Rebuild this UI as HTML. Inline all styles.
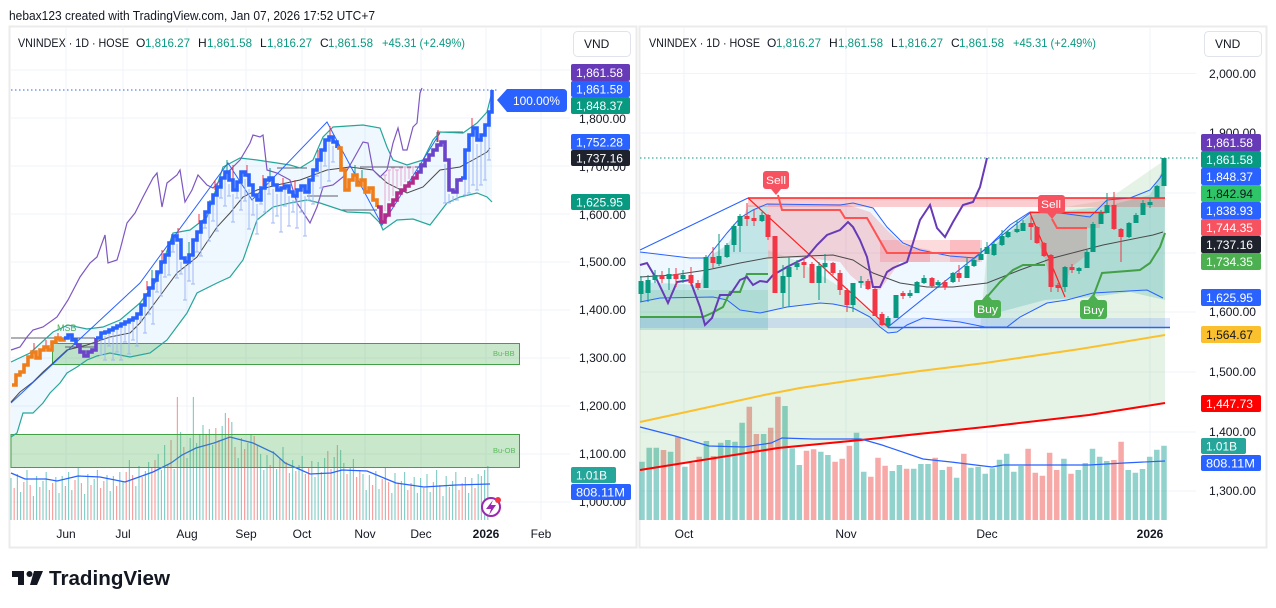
<!DOCTYPE html>
<html><head><meta charset="utf-8"><style>
html,body{margin:0;padding:0;background:#fff;}
body{width:1276px;height:608px;overflow:hidden;}
svg{display:block;font-family:"Liberation Sans",sans-serif;}
</style></head><body>
<svg width="1276" height="608" viewBox="0 0 1276 608" xmlns="http://www.w3.org/2000/svg">
<rect width="1276" height="608" fill="#fff"/>
<text x="9" y="20" font-size="12.5" fill="#131722" textLength="366" lengthAdjust="spacingAndGlyphs">hebax123 created with TradingView.com, Jan 07, 2026 17:52 UTC+7</text>

<!-- ================= LEFT CHART ================= -->
<rect x="9.5" y="26.5" width="627" height="521" fill="none" stroke="#ebebeb" stroke-width="2"/>
<g stroke="#f0f3fa" stroke-width="1">
<path d="M11,70H570M11,118H570M11,166H570M11,214H570M11,262H570M11,310H570M11,358H570M11,406H570M11,454H570M11,502H570"/>
<path d="M66,28V520M123,28V520M187,28V520M246,28V520M302,28V520M365,28V520M421,28V520M486,28V520M541,28V520"/>
</g>
<!-- bollinger fill -->
<polygon fill="#2196f3" fill-opacity="0.07" points="11,362 30,353 53,332 68,325 87,329 103,327 120,320 140,303 157,280 173,233 190,230 207,217 223,167 240,158 257,160 277,163 290,165 300,168 313,160 323,137 333,127 363,125 380,128 387,147 393,160 407,165 423,160 433,140 440,132 463,133 477,123 487,112 492,92 492,202 487,197 477,193 460,197 447,203 430,225 413,219 397,220 383,230 380,223 370,213 347,212 320,203 307,200 290,203 273,207 257,220 243,260 230,277 217,283 197,293 187,313 167,340 150,353 130,357 110,353 97,356 87,360 77,367 67,373 60,383 50,393 43,403 33,413 23,413 17,433 11,437"/>
<!-- volume -->
<path fill="none" stroke="#26a69a" stroke-opacity="0.55" stroke-width="1.2" d="M11,520V478M17.4,520V474M20.6,520V492M27,520V470M33.4,520V496M36.6,520V476M43,520V481M46.2,520V472M55.8,520V477M59,520V493M62.2,520V476M68.6,520V472M71.8,520V490M78.2,520V468M84.6,520V494M87.8,520V474M94.2,520V479M97.4,520V470M107,520V475M110.2,520V491M113.4,520V476M119.8,520V472M123,520V482M129.4,520V460M135.8,520V486M139,520V466M145.4,520V471M148.6,520V462M158.2,520V454M161.4,520V470M164.6,520V445M174.2,520V469M180.6,520V432M187,520V458M190.2,520V438M193.4,520V397M196.6,520V443M199.8,520V434M203,520V425M209.4,520V429M212.6,520V445M222.2,520V426M225.4,520V413M231.8,520V422M238.2,520V458M241.4,520V438M247.8,520V443M251,520V434M260.6,520V454M263.8,520V470M267,520V455M273.4,520V451M276.6,520V469M283,520V447M289.4,520V473M292.6,520V460M299,520V465M302.2,520V456M311.8,520V461M315,520V477M318.2,520V462M324.6,520V458M334.2,520V457M340.6,520V450M343.8,520V463M350.2,520V468M353.4,520V459M363,520V474M366.2,520V490M369.4,520V475M375.8,520V471M379,520V489M385.4,520V467M391.8,520V493M395,520V473M401.4,520V481M404.6,520V472M414.2,520V477M417.4,520V493M420.6,520V478M427,520V474M430.2,520V492M436.6,520V470M443,520V496M446.2,520V476M452.6,520V481M455.8,520V472M465.4,520V477M468.6,520V493M471.8,520V478M478.2,520V474M481.4,520V476M484.6,520V470M487.8,520V466"/>
<path fill="none" stroke="#ef5350" stroke-opacity="0.55" stroke-width="1.2" d="M14.2,520V488M23.8,520V482M30.2,520V485M39.8,520V487M49.4,520V490M52.6,520V483M65.4,520V486M75,520V480M81.4,520V483M91,520V485M100.6,520V488M103.8,520V481M116.6,520V486M126.2,520V472M132.6,520V475M142.2,520V477M151.8,520V467M155,520V460M167.8,520V465M171,520V440M177.4,520V397M183.8,520V447M206.2,520V435M215.8,520V428M219,520V440M228.6,520V418M235,520V447M244.6,520V449M254.2,520V436M257.4,520V445M270.2,520V465M279.8,520V459M286.2,520V462M295.8,520V471M305.4,520V474M308.6,520V467M321.4,520V472M327.8,520V451M331,520V469M337.4,520V445M347,520V474M356.6,520V477M359.8,520V470M372.6,520V485M382.2,520V479M388.6,520V482M398.2,520V484M407.8,520V490M411,520V483M423.8,520V488M433.4,520V482M439.8,520V485M449.4,520V487M459,520V490M462.2,520V483M475,520V488"/>
<polyline fill="none" stroke="#2962ff" stroke-width="1.3" points="11,473 25,479 46,479 57,481 78,476 100,477 125,482 153,472 171,463 182,455 196,448 214,443 230,437 253,443 274,453 285,463 310,474 331,473 342,470 367,471 396,483 424,487 456,485 490,484"/>
<!-- boxes -->
<rect x="52.5" y="343.5" width="467" height="21" fill="#4caf50" fill-opacity="0.3" stroke="#43a047" stroke-width="1"/>
<rect x="11" y="434.5" width="508.5" height="33" fill="#4caf50" fill-opacity="0.3" stroke="#43a047" stroke-width="1"/>
<text x="493" y="356" font-size="7.5" fill="#5cb860">Bu-BB</text>
<text x="493" y="453" font-size="7.5" fill="#5cb860">Bu-OB</text>
<!-- gray level lines -->
<path fill="none" stroke="#5d606b" stroke-width="1" d="M11,338H95M65,347H95M277,168H307M307,196H338M340,210H377M360,167H427M437,132H463M437,132V142"/>
<!-- bands -->
<polyline fill="none" stroke="#26a69a" stroke-width="1.2" points="11,362 30,353 53,332 68,325 87,329 103,327 120,320 140,303 157,280 173,233 190,230 207,217 223,167 240,158 257,160 277,163 290,165 300,168 313,160 323,137 333,127 363,125 380,128 387,147 393,160 407,165 423,160 433,140 440,132 463,133 477,123 487,112 492,92"/>
<polyline fill="none" stroke="#26a69a" stroke-width="1.2" points="11,437 17,433 23,413 33,413 43,403 50,393 60,383 67,373 77,367 87,360 97,356 110,353 130,357 150,353 167,340 187,313 197,293 217,283 230,277 243,260 257,220 273,207 290,203 307,200 320,203 347,212 370,213 380,223 383,230 397,220 413,219 430,225 447,203 460,197 477,193 487,197 492,202"/>
<polyline fill="none" stroke="#4a4a4a" stroke-width="1" points="11,402 20,392 33,382 43,372 53,363 67,350 87,345 110,337 130,333 140,323 157,300 177,273 197,257 217,227 230,213 243,197 257,190 277,185 300,180 327,170 350,167 373,170 387,183 407,193 423,187 440,170 460,167 473,160 487,152 490,148"/>
<polyline fill="none" stroke="#7e57c2" stroke-width="1.2" points="11,350 20,347 27,337 33,330 43,327 57,317 68,300 80,277 90,263 97,257 105,235 108,263 117,260 120,250 127,223 135,213 143,197 153,178 157,173 162,207 167,183 177,175 180,170 185,202 192,190 198,175 207,185 213,188 225,175 240,160 250,143 253,135 260,137 263,135 267,170 277,173 290,180 297,203 310,223 317,207 323,187 333,185 343,177 353,160 363,142 368,143 373,170 380,177 387,170 393,143 398,128 403,150 407,150 413,127 417,123 420,93 422,88"/>
<polyline fill="none" stroke="#2962ff" stroke-width="1" points="11,403 140,283 228,163 252,200 327,122 382,225 440,133"/>
<text x="57" y="331" font-size="9" fill="#4caf50">MSB</text>
<!-- wicks -->
<path fill="none" stroke="#9fb9f5" stroke-width="1" d="M101,337V355M105,336V360M109,334V346M113,332V360M117,330V352M121,328V360M125,326V342M129,324V354M133,322V340M137,318V346M141,309V321M145,299V333M149,292V314M153,284V324M157,276V292M161,266V296M165,259V277M169,247V275M173,240V252M177,244V278M181,262V274M185,266V300M189,259V281M193,244V284M197,236V252M201,226V256M205,216V228M209,207V241M213,199V221M217,191V231M221,182V198M225,176V206M229,184V196M233,194V222M237,186V198M241,176V210M245,179V201M249,189V229M253,199V215M257,204V234M261,192V204M265,184V212M269,182V194M273,189V223M277,194V216M281,192V232M285,190V206M289,196V226M293,200V212M297,194V228M301,190V212M305,196V236M309,184V200M313,174V204M317,164V176M321,154V188M325,144V166M329,141V181M333,146V162M445,164V203M449,194V203M453,196V202M457,184V200M465,154V195M469,139V193M473,132V185M477,144V190M481,139V185M485,129V180M489,116V160
M99,355h4M103,360h4M107,346h4M111,360h4M115,352h4M119,360h4M123,342h4M127,354h4M131,340h4M135,346h4M139,321h4M143,333h4M147,314h4M151,324h4M155,292h4M159,296h4M163,277h4M167,275h4M171,252h4M175,278h4M179,274h4M183,300h4M187,281h4M191,284h4M195,252h4M199,256h4M203,228h4M207,241h4M211,221h4M215,231h4M219,198h4M223,206h4M227,196h4M231,222h4M235,198h4M239,210h4M243,201h4M247,229h4M251,215h4M255,234h4M259,204h4M263,212h4M267,194h4M271,223h4M275,216h4M279,232h4M283,206h4M287,226h4M291,212h4M295,228h4M299,212h4M303,236h4M307,200h4M311,204h4M315,176h4M319,188h4M323,166h4M327,181h4M331,162h4M443,203h4M447,203h4M455,200h4M463,195h4M467,193h4M471,185h4M475,190h4M479,185h4M483,180h4M487,160h4"/>
<path fill="none" stroke="#e7a6cf" stroke-width="1" d="M385,175V211M389,170V201M393,168V196M397,170V189M401,168V186M405,167V182M409,168V179M413,167V174M383,175h4M387,170h4M391,168h4M395,170h4M399,168h4M403,167h4M407,168h4M411,167h4"/>
<path fill="none" stroke="#f23645" stroke-width="1" d="M147,281V290M162,250V262M178,228V240M199,214V224M215,180V190M233,165V180M247,165V177M263,175V186M283,178V188M295,180V190M318,150V160M330,126V138M472,118V128M438,130V142M34,343V350M46,340V347M58,333V340"/>
<path fill="none" stroke="#089981" stroke-width="1" d="M189,242V255M227,160V172M270,168V178M355,165V175M362,170V185M152,270V280M210,200V210"/>
<!-- candles staircase -->
<g fill="none" stroke-width="3.6" stroke-linejoin="miter">
<path stroke="#ef7d1a" d="M12,385H16V375H20V372H24V365H28V357H32V352H36V358H40V350H44V347H48V350H52V342H56V338H60V340H64V338"/>
<path stroke="#2962ff" d="M64,338H68V335H72V340H76V345"/>
<path stroke="#6a45c9" d="M76,345H80V352H84V356H88V352H92V350H96V338"/>
<path stroke="#2962ff" d="M96,338H101V333H105V332H109V330H113V328H117V326H121V324H125V322H129V320H133V318H137V314H141V305H145V295H149V288H153V280H157V272H161V262H165V255H169V243H173V236H177V240H181V258H185V262H189V255H193V240H197V232H201V222H205V212H209V203H213V195H217V187H221V178H225V172H229V180H233V190H237V182H241V172H245V175H249V185H253V195H257V200H261V188H265V180H269V178H273V185H277V190H281V188H285V186H289V192H293V196H297V190H301V186H305V192H309V180H313V170H317V160H321V150H325V140H329V137H333V142H337V148"/>
<path stroke="#ef7d1a" d="M337,148H341V170H345V190H349V180H353V175H357V185H361V180H365V192H369V188H373V200H377V207"/>
<path stroke="#b22a8a" d="M377,207H381V222H385V215H389V205H393V200H397V193H401V190H405V186H409V183H413V178H417V172"/>
<path stroke="#6a45c9" d="M417,172H421V165H425V160H429V155H433V150H437V145H441V142H445V160H449V190H453V192H457V180H461V178"/>
<path stroke="#2962ff" d="M461,178H465V150H469V135H473V128H477V140H481V135H485V125H489V112H492V90"/>
</g>
<line x1="11" y1="90" x2="498" y2="90" stroke="#2962ff" stroke-width="1" stroke-dasharray="1.5,2.5"/>
<path d="M497,100L507,89H563Q567,89 567,93V108Q567,112 563,112H507Z" fill="#2962ff"/>
<text x="513" y="105" font-size="12" fill="#fff" textLength="47" lengthAdjust="spacingAndGlyphs">100.00%</text>
<!-- lightning -->
<circle cx="491" cy="507" r="9" fill="#fff" stroke="#9c27b0" stroke-width="2"/>
<polygon points="493,500 486,509 491,509 489,515 496,505 491,505" fill="#9c27b0"/>
<circle cx="498" cy="500" r="3" fill="#f23645"/>
<!-- left axis labels -->
<g font-size="12" fill="#131722">
<text x="579" y="74" textLength="47" lengthAdjust="spacingAndGlyphs">1,900.00</text>
<text x="579" y="123" textLength="47" lengthAdjust="spacingAndGlyphs">1,800.00</text>
<text x="579" y="171" textLength="47" lengthAdjust="spacingAndGlyphs">1,700.00</text>
<text x="579" y="219" textLength="47" lengthAdjust="spacingAndGlyphs">1,600.00</text>
<text x="579" y="266" textLength="47" lengthAdjust="spacingAndGlyphs">1,500.00</text>
<text x="579" y="314" textLength="47" lengthAdjust="spacingAndGlyphs">1,400.00</text>
<text x="579" y="362" textLength="47" lengthAdjust="spacingAndGlyphs">1,300.00</text>
<text x="579" y="410" textLength="47" lengthAdjust="spacingAndGlyphs">1,200.00</text>
<text x="579" y="458" textLength="47" lengthAdjust="spacingAndGlyphs">1,100.00</text>
<text x="579" y="506" textLength="47" lengthAdjust="spacingAndGlyphs">1,000.00</text>
</g>
<g font-size="12" fill="#fff">
<rect x="571" y="64" width="59" height="17" rx="2" fill="#673ab7"/><text x="576" y="77" textLength="47" lengthAdjust="spacingAndGlyphs">1,861.58</text>
<rect x="571" y="81" width="59" height="16" rx="2" fill="#2962ff"/><text x="576" y="93.5" textLength="47" lengthAdjust="spacingAndGlyphs">1,861.58</text>
<rect x="571" y="97" width="59" height="17" rx="2" fill="#089981"/><text x="576" y="110" textLength="47" lengthAdjust="spacingAndGlyphs">1,848.37</text>
<rect x="571" y="134" width="59" height="16" rx="2" fill="#2962ff"/><text x="576" y="146.5" textLength="47" lengthAdjust="spacingAndGlyphs">1,752.28</text>
<rect x="571" y="150" width="59" height="16" rx="2" fill="#1e222d"/><text x="576" y="162.5" textLength="47" lengthAdjust="spacingAndGlyphs">1,737.16</text>
<rect x="571" y="194" width="59" height="16" rx="2" fill="#089981"/><text x="576" y="206.5" textLength="47" lengthAdjust="spacingAndGlyphs">1,625.95</text>
<rect x="571" y="467" width="45" height="16" rx="2" fill="#26a69a"/><text x="576" y="479.5" textLength="31" lengthAdjust="spacingAndGlyphs">1.01B</text>
<rect x="571" y="484" width="60" height="16" rx="2" fill="#2962ff"/><text x="576" y="496.5" textLength="49" lengthAdjust="spacingAndGlyphs">808.11M</text>
</g>
<rect x="573.5" y="31.5" width="57" height="25" rx="4" fill="#fff" stroke="#e0e3eb"/>
<text x="584" y="48" font-size="12" fill="#131722">VND</text>
<g font-size="12" fill="#131722">
<text x="18" y="47" textLength="111" lengthAdjust="spacingAndGlyphs">VNINDEX · 1D · HOSE</text>
<text x="136" y="47">O</text><text x="145" y="47" fill="#089981" textLength="45" lengthAdjust="spacingAndGlyphs">1,816.27</text>
<text x="198" y="47">H</text><text x="207" y="47" fill="#089981" textLength="45" lengthAdjust="spacingAndGlyphs">1,861.58</text>
<text x="260" y="47">L</text><text x="267" y="47" fill="#089981" textLength="45" lengthAdjust="spacingAndGlyphs">1,816.27</text>
<text x="320" y="47">C</text><text x="328" y="47" fill="#089981" textLength="45" lengthAdjust="spacingAndGlyphs">1,861.58</text>
<text x="382" y="47" fill="#089981" textLength="83" lengthAdjust="spacingAndGlyphs">+45.31 (+2.49%)</text>
</g>
<g font-size="12" fill="#131722" text-anchor="middle">
<text x="66" y="538">Jun</text><text x="123" y="538">Jul</text><text x="187" y="538">Aug</text><text x="246" y="538">Sep</text><text x="302" y="538">Oct</text><text x="365" y="538">Nov</text><text x="421" y="538">Dec</text><text x="486" y="538" font-weight="bold">2026</text><text x="541" y="538">Feb</text>
</g>

<!-- ================= RIGHT CHART ================= -->
<rect x="639.5" y="26.5" width="627" height="521" fill="none" stroke="#ebebeb" stroke-width="2"/>
<g stroke="#f0f3fa" stroke-width="1">
<path d="M640,73.5H1196M640,133H1196M640,193H1196M640,253H1196M640,312H1196M640,372H1196M640,432H1196M640,491H1196"/>
<path d="M684,28V520M846,28V520M987,28V520M1150,28V520"/>
</g>
<!-- volume -->
<path fill="none" stroke="#26a69a" stroke-opacity="0.5" stroke-width="5.5" d="M642,520V461.7M649.2,520V447.7M656.3,520V447.7M670.6,520V451.7M684.9,520V466.7M706.4,520V441M720.7,520V442.7M727.8,520V440M735,520V441.7M742.1,520V422.7M763.6,520V434M785,520V406M792.2,520V448.3M799.3,520V465M820.8,520V451.7M827.9,520V455M856.5,520V432.7M863.7,520V471.7M892.3,520V471M899.4,520V465M913.7,520V468.7M920.9,520V464M928,520V464M942.3,520V470M956.6,520V477.7M970.9,520V467.7M978.1,520V466.7M985.2,520V473.7M992.4,520V468.3M999.5,520V459.7M1006.7,520V453.7M1013.8,520V471.7M1021,520V466M1063.9,520V458.7M1078.2,520V470M1085.3,520V463M1092.5,520V448.7M1099.6,520V456.7M1106.8,520V461M1128.2,520V470M1135.4,520V472.7M1142.5,520V469M1149.7,520V456.7M1156.8,520V449.7M1164,520V445.7"/>
<path fill="none" stroke="#ef5350" stroke-opacity="0.5" stroke-width="5.5" d="M663.5,520V450M677.8,520V436.7M692.1,520V463.3M699.2,520V456.7M713.5,520V456M749.3,520V406.7M756.4,520V434M770.7,520V427.7M777.9,520V396.7M806.5,520V450.7M813.6,520V449.3M835.1,520V461.7M842.2,520V458.7M849.4,520V445.7M870.8,520V476.7M878,520V457.7M885.1,520V465.7M906.6,520V468.7M935.2,520V457.7M949.5,520V466.7M963.8,520V453.7M1028.1,520V448.7M1035.3,520V472.7M1042.4,520V475.7M1049.6,520V452.7M1056.7,520V470M1071,520V473.7M1113.9,520V460M1121.1,520V441.7"/>
<!-- fills -->
<polygon fill="#4caf50" fill-opacity="0.15" points="640,290 768,290 768,250 800,262 845,290 888,328 980,330 987,250 1030,213 1107,200 1165,160 1165,403 1089,415 985,427 861,440 778,448 640,470"/>
<polygon fill="#2196f3" fill-opacity="0.07" points="640,252 690,258 707,258 727,233 740,218 753,210 767,204 840,205 853,203 873,208 887,227 903,243 920,250 950,256 975,258 990,245 1010,225 1030,212 1060,213 1090,217 1107,200 1130,198 1150,190 1160,178 1165,168 1163,298 1147,290 1093,293 1067,300 1047,303 1020,317 1007,327 985,327 960,322 923,318 907,325 897,332 888,333 880,327 870,317 853,308 833,304 820,303 787,307 760,313 740,310 727,300 713,297 660,298 640,302"/>
<polygon fill="#26a69a" fill-opacity="0.22" points="640,282 700,285 707,258 727,245 740,225 748,205 768,206 768,330 640,330"/>
<polygon fill="#26a69a" fill-opacity="0.22" points="987,252 1030,215 1107,206 1150,195 1165,165 1165,300 1130,292 1093,297 1045,300 1000,312 987,300"/>
<polygon fill="#f23645" fill-opacity="0.2" points="768,204 845,204 870,212 887,230 903,245 930,250 930,262 900,262 880,290 862,285 850,275 840,262 807,258 785,258 768,258"/>
<rect x="880" y="240" width="100" height="22" fill="#f23645" fill-opacity="0.18"/>
<rect x="950" y="240" width="32" height="22" fill="#f23645" fill-opacity="0.18"/>
<polygon fill="#f23645" fill-opacity="0.2" points="1031,213 1100,213 1100,228 1087,228 1087,255 1070,268 1065,290 1051,285 1044,255 1037,240"/>
<rect x="748" y="198" width="417" height="9" fill="#f23645" fill-opacity="0.25"/>
<rect x="640" y="318" width="530" height="10" fill="#2962ff" fill-opacity="0.15"/>
<line x1="888" y1="327.5" x2="1170" y2="327.5" stroke="#2962ff" stroke-width="1.5"/>
<!-- long MAs -->
<polyline fill="none" stroke="#fbc02d" stroke-width="2" points="640,422 700,409 764,395 800,388 861,379 920,371 985,363 1080,349 1165,335"/>
<polyline fill="none" stroke="#ff0000" stroke-width="2" points="640,470 778,448 861,440 985,427 1089,415 1165,403"/>
<polyline fill="none" stroke="#2962ff" stroke-width="1.2" points="640,427 675,436 709,446 744,447 771,443 782,438 813,439 861,439 882,445 923,459 951,462 992,467 1003,465 1089,465 1124,463 1165,461"/>
<!-- bands -->
<polyline fill="none" stroke="#2962ff" stroke-width="1" points="640,252 690,258 707,258 727,233 740,218 753,210 767,204 840,205 853,203 873,208 887,227 903,243 920,250 950,256 975,258 990,245 1010,225 1030,212 1060,213 1090,217 1107,200 1130,198 1150,190 1160,178 1165,168"/>
<polyline fill="none" stroke="#2962ff" stroke-width="1" points="640,302 660,298 713,297 727,300 740,310 760,313 787,307 820,303 833,304 853,308 870,317 880,327 888,333 897,332 907,325 923,318 960,322 985,327 1007,327 1020,317 1047,303 1067,300 1093,293 1147,290 1163,298"/>
<polyline fill="none" stroke="#4a4a4a" stroke-width="1" points="640,277 673,275 707,270 740,263 767,258 807,256 833,255 853,260 873,273 900,283 927,287 953,287 987,283 1020,270 1053,258 1103,245 1153,235 1163,232"/>
<polyline fill="none" stroke="#2962ff" stroke-width="1" points="640,250 748,198"/>
<polyline fill="none" stroke="#2962ff" stroke-width="1" points="888,327 1030,213"/>
<line x1="748" y1="198" x2="1165" y2="198" stroke="#ff2020" stroke-width="1.5"/>
<line x1="748" y1="198" x2="888" y2="327" stroke="#ff2020" stroke-width="1.2"/>
<line x1="1030" y1="212.5" x2="1107" y2="212.5" stroke="#ff2020" stroke-width="1.5"/>
<line x1="1030" y1="213" x2="1065" y2="297" stroke="#ff2020" stroke-width="1.2"/>
<polyline fill="none" stroke="#ff5252" stroke-width="2" points="778,195 782,210 840,210 845,218 867,218 887,253 980,253"/>
<polyline fill="none" stroke="#ff5252" stroke-width="2" points="1052,219 1057,228 1087,228"/>
<polyline fill="none" stroke="#43a047" stroke-width="2" points="640,317 703,317 712,313 723,307 730,292 740,292 747,274 768,274"/>
<polyline fill="none" stroke="#43a047" stroke-width="2" points="987,297 1000,282 1013,270 1023,265 1045,265"/>
<polyline fill="none" stroke="#43a047" stroke-width="2" points="1093,297 1102,273 1140,270 1150,263 1160,247 1165,233"/>
<polyline fill="none" stroke="#673ab7" stroke-width="2" points="640,265 647,263 657,280 668,303 677,282 690,280 700,307 705,325 712,318 720,295 730,295 740,280 747,277 753,285 760,281 767,282 773,275 787,267 807,257 817,245 827,235 840,230 848,222 853,227 860,240 867,257 873,287 880,287 887,272 893,268 907,262 913,243 920,220 930,205 937,228 945,237 953,222 963,205 973,202 980,187 987,158"/>
<!-- candles -->
<path fill="none" stroke="#089981" stroke-width="1" d="M641,276V302M648,275V302M655,270V283M669,268V290M683,270V283M706,255V288M719,234V266M727,243V258M734,224V252M740,214V252M762,212V222M783,265V307M789,257V307M797,260V270M819,262V300M825,254V283M853,283V312M861,276V288M888,316V328M896,295V318M910,290V298M917,281V293M924,275V284M938,280V288M953,272V283M967,258V278M974,258V267M981,248V260M987,242V254M994,242V256M1002,230V246M1008,230V238M1017,220V233M1023,220V231M1065,266V292M1079,267V274M1087,250V268M1093,222V252M1101,210V224M1107,193V213M1129,222V238M1136,213V223M1143,200V215M1150,198V208M1157,185V198M1164,158V186"/>
<path fill="none" stroke="#089981" stroke-width="5" d="M641,281V294M648,280V293M655,275V280M669,274V279M683,275V279M706,257V288M719,256V264M727,245V257M734,226V245M740,216V226M762,215V221M783,276V293M789,267V277M797,263V267M819,266V283M825,263V267M853,283V305M861,281V283M888,318V326M896,295V318M910,293V296M917,282V293M924,278V283M938,282V285M953,273V282M967,266V278M974,260V266M981,254V260M987,247V254M994,244V255M1002,236V245M1008,232V237M1017,229V232M1023,223V231M1065,267V287M1079,268V271M1087,252V268M1093,224V252M1101,213V224M1107,205V213M1129,223V237M1136,215V223M1143,203V215M1150,202V205M1157,186V198M1164,158V186"/>
<path fill="none" stroke="#f23645" stroke-width="1" d="M662,271V283M676,268V287M691,267V286M698,280V290M713,247V268M747,203V226M754,209V226M768,214V240M775,236V293M804,258V278M812,262V283M833,262V275M840,270V295M847,288V312M868,279V290M875,288V316M882,312V326M903,291V299M932,277V288M945,280V290M959,265V282M1031,215V240M1037,226V244M1044,242V257M1051,254V292M1058,283V292M1072,264V273M1114,192V230M1121,228V262"/>
<path fill="none" stroke="#f23645" stroke-width="5" d="M662,275V279M676,274V279M691,275V283M698,283V288M713,257V263M747,216V219M754,218V221M768,215V237M775,236V293M804,262V265M812,264V283M833,263V273M840,273V290M847,290V305M868,281V289M875,289V316M882,314V325M903,293V296M932,278V286M945,282V287M959,273V278M1031,223V227M1037,227V243M1044,243V256M1051,255V287M1058,285V288M1072,267V270M1114,205V229M1121,229V237"/>
<line x1="640" y1="158" x2="1200" y2="158" stroke="#089981" stroke-width="1" stroke-dasharray="1.5,2.5"/>
<!-- labels -->
<rect x="763" y="171" width="26" height="18" rx="3" fill="#f7525f"/><polygon points="771,189 781,189 776,195" fill="#f7525f"/>
<text x="766" y="184" font-size="11" fill="#fff" textLength="20" lengthAdjust="spacingAndGlyphs">Sell</text>
<rect x="1038" y="195" width="27" height="18" rx="3" fill="#f7525f"/><polygon points="1047,213 1057,213 1052,219" fill="#f7525f"/>
<text x="1041" y="208" font-size="11" fill="#fff" textLength="20" lengthAdjust="spacingAndGlyphs">Sell</text>
<rect x="974" y="300" width="27" height="18" rx="3" fill="#4caf50"/><polygon points="982,300 992,300 987,294" fill="#4caf50"/>
<text x="977" y="313" font-size="11" fill="#fff" textLength="21" lengthAdjust="spacingAndGlyphs">Buy</text>
<rect x="1080" y="300" width="27" height="19" rx="3" fill="#4caf50"/><polygon points="1088,300 1098,300 1093,294" fill="#4caf50"/>
<text x="1083" y="314" font-size="11" fill="#fff" textLength="21" lengthAdjust="spacingAndGlyphs">Buy</text>
<!-- right axis -->
<g font-size="12" fill="#131722">
<text x="1209" y="78" textLength="47" lengthAdjust="spacingAndGlyphs">2,000.00</text>
<text x="1209" y="137" textLength="47" lengthAdjust="spacingAndGlyphs">1,900.00</text>
<text x="1209" y="316" textLength="47" lengthAdjust="spacingAndGlyphs">1,600.00</text>
<text x="1209" y="376" textLength="47" lengthAdjust="spacingAndGlyphs">1,500.00</text>
<text x="1209" y="436" textLength="47" lengthAdjust="spacingAndGlyphs">1,400.00</text>
<text x="1209" y="495" textLength="47" lengthAdjust="spacingAndGlyphs">1,300.00</text>
</g>
<g font-size="12" fill="#fff">
<rect x="1201" y="134" width="60" height="17" rx="2" fill="#673ab7"/><text x="1206" y="147" textLength="47" lengthAdjust="spacingAndGlyphs">1,861.58</text>
<rect x="1201" y="151" width="60" height="17" rx="2" fill="#089981"/><text x="1206" y="164" textLength="47" lengthAdjust="spacingAndGlyphs">1,861.58</text>
<rect x="1201" y="168" width="60" height="17" rx="2" fill="#2962ff"/><text x="1206" y="181" textLength="47" lengthAdjust="spacingAndGlyphs">1,848.37</text>
<rect x="1201" y="185" width="60" height="17" rx="2" fill="#2fc468"/><text x="1206" y="198" textLength="47" lengthAdjust="spacingAndGlyphs" fill="#131722">1,842.94</text>
<rect x="1201" y="202" width="60" height="17" rx="2" fill="#2962ff"/><text x="1206" y="215" textLength="47" lengthAdjust="spacingAndGlyphs">1,838.93</text>
<rect x="1201" y="219" width="60" height="17" rx="2" fill="#f7525f"/><text x="1206" y="232" textLength="47" lengthAdjust="spacingAndGlyphs">1,744.35</text>
<rect x="1201" y="236" width="60" height="17" rx="2" fill="#1e222d"/><text x="1206" y="249" textLength="47" lengthAdjust="spacingAndGlyphs">1,737.16</text>
<rect x="1201" y="253" width="60" height="17" rx="2" fill="#4caf50"/><text x="1206" y="266" textLength="47" lengthAdjust="spacingAndGlyphs">1,734.35</text>
<rect x="1201" y="289" width="60" height="17" rx="2" fill="#2962ff"/><text x="1206" y="302" textLength="47" lengthAdjust="spacingAndGlyphs">1,625.95</text>
<rect x="1201" y="326" width="60" height="17" rx="2" fill="#fbc02d"/><text x="1206" y="339" textLength="47" lengthAdjust="spacingAndGlyphs" fill="#131722">1,564.67</text>
<rect x="1201" y="395" width="60" height="17" rx="2" fill="#ff0000"/><text x="1206" y="408" textLength="47" lengthAdjust="spacingAndGlyphs">1,447.73</text>
<rect x="1201" y="438" width="45" height="16" rx="2" fill="#26a69a"/><text x="1206" y="450.5" textLength="31" lengthAdjust="spacingAndGlyphs">1.01B</text>
<rect x="1201" y="455" width="60" height="16" rx="2" fill="#2962ff"/><text x="1206" y="467.5" textLength="49" lengthAdjust="spacingAndGlyphs">808.11M</text>
</g>
<rect x="1204.5" y="31.5" width="57" height="25" rx="4" fill="#fff" stroke="#e0e3eb"/>
<text x="1215" y="48" font-size="12" fill="#131722">VND</text>
<g font-size="12" fill="#131722">
<text x="649" y="47" textLength="111" lengthAdjust="spacingAndGlyphs">VNINDEX · 1D · HOSE</text>
<text x="767" y="47">O</text><text x="776" y="47" fill="#089981" textLength="45" lengthAdjust="spacingAndGlyphs">1,816.27</text>
<text x="829" y="47">H</text><text x="838" y="47" fill="#089981" textLength="45" lengthAdjust="spacingAndGlyphs">1,861.58</text>
<text x="891" y="47">L</text><text x="898" y="47" fill="#089981" textLength="45" lengthAdjust="spacingAndGlyphs">1,816.27</text>
<text x="951" y="47">C</text><text x="959" y="47" fill="#089981" textLength="45" lengthAdjust="spacingAndGlyphs">1,861.58</text>
<text x="1013" y="47" fill="#089981" textLength="83" lengthAdjust="spacingAndGlyphs">+45.31 (+2.49%)</text>
</g>
<g font-size="12" fill="#131722" text-anchor="middle">
<text x="684" y="538">Oct</text><text x="846" y="538">Nov</text><text x="987" y="538">Dec</text><text x="1150" y="538" font-weight="bold">2026</text>
</g>

<!-- TradingView logo -->
<path d="M12,571H24V585H18V577H12Z" fill="#131722"/>
<circle cx="29.5" cy="574" r="3" fill="#131722"/>
<polygon points="34,571 43,571 37,585 30,585" fill="#131722"/>
<text x="49" y="585" font-size="20" font-weight="bold" fill="#131722" textLength="121" lengthAdjust="spacingAndGlyphs">TradingView</text>
</svg>
</body></html>
